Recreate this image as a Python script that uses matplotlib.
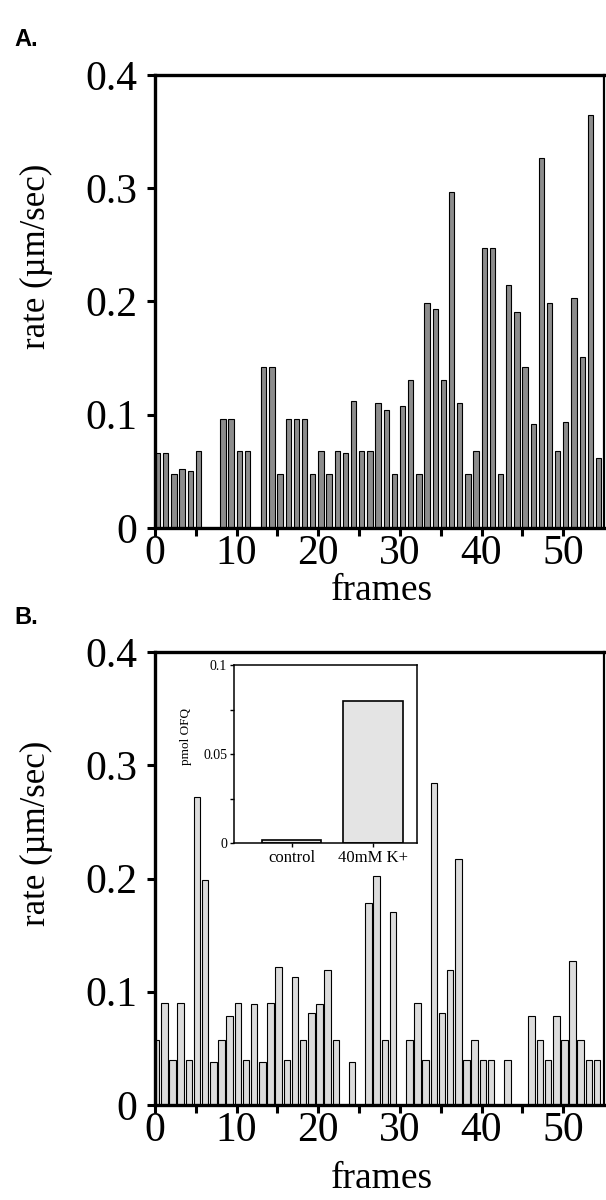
import matplotlib.pyplot as plt

plt.rcParams["font.family"] = ["Liberation Serif", "DejaVu Serif"]

# frame index for every bar (both panels share it)
frames = list(range(55))

# panel A: rate per frame (0 = no bar)
rate_a = [0.066, 0.066, 0.048, 0.052, 0.050, 0.068, 0.0, 0.0, 0.096, 0.096,
          0.068, 0.068, 0.0, 0.142, 0.142, 0.048, 0.096, 0.096, 0.096, 0.048,
          0.068, 0.048, 0.068, 0.066, 0.112, 0.068, 0.068, 0.110, 0.104, 0.048,
          0.108, 0.131, 0.048, 0.199, 0.193, 0.131, 0.297, 0.110, 0.048, 0.068,
          0.247, 0.247, 0.048, 0.215, 0.191, 0.142, 0.092, 0.327, 0.199, 0.068,
          0.094, 0.203, 0.151, 0.365, 0.062]

# panel B: rate per frame
rate_b = [0.057, 0.090, 0.040, 0.090, 0.040, 0.272, 0.199, 0.038, 0.057, 0.079,
          0.090, 0.040, 0.089, 0.038, 0.090, 0.122, 0.040, 0.113, 0.057, 0.081,
          0.089, 0.119, 0.057, 0.0, 0.038, 0.0, 0.178, 0.202, 0.057, 0.170,
          0.0, 0.057, 0.090, 0.040, 0.284, 0.081, 0.119, 0.217, 0.040, 0.057,
          0.040, 0.040, 0.0, 0.040, 0.0, 0.0, 0.079, 0.057, 0.040, 0.079,
          0.057, 0.127, 0.057, 0.040, 0.040]

frame_ticks = [0, 10, 20, 30, 40, 50]
frame_minor_ticks = [5, 15, 25, 35, 45]
rate_ticks = [0, 0.1, 0.2, 0.3, 0.4]
rate_tick_labels = ["0", "0.1", "0.2", "0.3", "0.4"]

# inset of panel B
inset_groups = ["control", "40mM K+"]
inset_pmol = [0.0015, 0.080]
inset_ticks = [0, 0.05, 0.1]
inset_tick_labels = ["0", "0.05", "0.1"]
inset_minor_ticks = [0.025, 0.075]

W, H = 606, 1200


def px_axes(fig, x0, y0, x1, y1):
    # pixel box (top-left origin) -> figure fraction
    return fig.add_axes([x0 / W, 1 - y1 / H, (x1 - x0) / W, (y1 - y0) / H])


def style_rate_axes(ax, xlabel_y):
    ax.set_xlim(0, 55)
    ax.set_ylim(0, 0.4)
    ax.set_xticks(frame_ticks)
    ax.set_xticklabels([str(t) for t in frame_ticks])
    ax.set_xticks(frame_minor_ticks, minor=True)
    ax.set_yticks(rate_ticks)
    ax.set_yticklabels(rate_tick_labels)
    for side in ("left", "bottom", "top"):
        ax.spines[side].set_linewidth(2.4)
    ax.spines["right"].set_linewidth(1.6)
    ax.tick_params(axis="both", which="both", direction="out", length=6, width=2.2,
                   top=False, right=False)
    ax.tick_params(axis="x", which="both", labelsize=30, pad=-1)
    ax.tick_params(axis="y", labelsize=30, pad=7)
    ax.set_xlabel("frames", fontsize=27)
    ax.set_ylabel("rate (µm/sec)", fontsize=25)
    ax.xaxis.set_label_coords(0.505, xlabel_y)
    ax.yaxis.set_label_coords(-0.228, 0.6)


fig = plt.figure(figsize=(W / 100, H / 100), dpi=100)

ax_a = px_axes(fig, 155, 75, 604, 528)
ax_a.bar(frames, rate_a, width=0.65, align="edge", color="#8c8c8c",
         edgecolor="black", linewidth=0.8)
style_rate_axes(ax_a, -0.1)

ax_b = px_axes(fig, 155, 652, 604, 1105)
ax_b.bar([f + 0.15 for f in frames], rate_b, width=0.8, color="#dcdcdc",
         edgecolor="black", linewidth=0.8)
style_rate_axes(ax_b, -0.125)

fig.text(14 / W, 1 - 40 / H, "A.", family=["Liberation Sans", "DejaVu Sans"],
         fontweight="bold", fontsize=17, va="center", ha="left")
fig.text(14 / W, 1 - 617 / H, "B.", family=["Liberation Sans", "DejaVu Sans"],
         fontweight="bold", fontsize=17, va="center", ha="left")

# inset
ax_in = px_axes(fig, 234, 665, 417, 843)
ax_in.bar(range(len(inset_groups)), inset_pmol, width=0.73, color="#e4e4e4",
          edgecolor="black", linewidth=1.2)
ax_in.set_xlim(-0.71, 1.54)
ax_in.set_ylim(0, 0.1)
ax_in.set_xticks(range(len(inset_groups)))
ax_in.set_xticklabels(inset_groups)
ax_in.set_yticks(inset_ticks)
ax_in.set_yticklabels(inset_tick_labels)
ax_in.set_yticks(inset_minor_ticks, minor=True)
for side in ax_in.spines.values():
    side.set_linewidth(1.1)
ax_in.tick_params(axis="both", which="both", direction="out", length=3, width=1,
                  pad=2)
ax_in.tick_params(axis="x", labelsize=12)
ax_in.tick_params(axis="y", labelsize=10)
ax_in.set_ylabel("pmol OFQ", fontsize=9.5)
ax_in.yaxis.set_label_coords(-0.23, 0.6)

fig.savefig("out.png", dpi=100)
